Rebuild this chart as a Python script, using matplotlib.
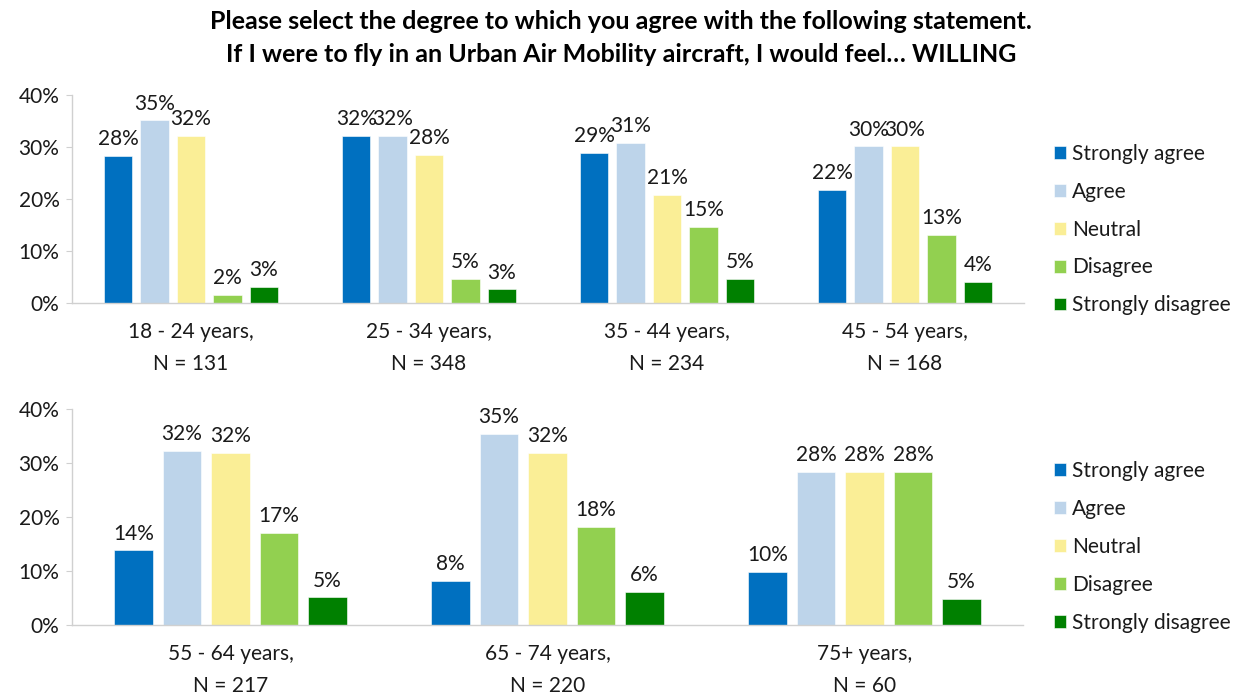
import matplotlib
matplotlib.use("Agg")
import matplotlib.pyplot as plt
import numpy as np

plt.rcParams['font.family'] = ['Lato', 'DejaVu Sans']

series = ["Strongly agree", "Agree", "Neutral", "Disagree", "Strongly disagree"]
colors = ["#0070C0", "#BDD4EA", "#FAEE96", "#92D050", "#008000"]

top_groups = ["18 - 24 years,\nN = 131", "25 - 34 years,\nN = 348",
              "35 - 44 years,\nN = 234", "45 - 54 years,\nN = 168"]
top_values = {
    "Strongly agree":    [28.2, 32.2, 28.9, 21.8],
    "Agree":             [35.1, 32.2, 30.7, 30.1],
    "Neutral":           [32.1, 28.4, 20.7, 30.1],
    "Disagree":          [1.5, 4.6, 14.6, 13.0],
    "Strongly disagree": [3.0, 2.6, 4.6, 4.0],
}

bottom_groups = ["55 - 64 years,\nN = 217", "65 - 74 years,\nN = 220",
                 "75+ years,\nN = 60"]
bottom_values = {
    "Strongly agree":    [13.8, 8.1, 9.9],
    "Agree":             [32.2, 35.4, 28.3],
    "Neutral":           [31.8, 31.8, 28.3],
    "Disagree":          [17.0, 18.1, 28.3],
    "Strongly disagree": [5.1, 6.2, 4.9],
}

title = ("Please select the degree to which you agree with the following statement.\n"
         "If I were to fly in an Urban Air Mobility aircraft, I would feel\u2026 WILLING")

W, H = 1242, 694
FS = 15
TXT = '#1a1a1a'
fig = plt.figure(figsize=(W / 100, H / 100), dpi=100)

def px_ax(left, right, y0, y40):
    return fig.add_axes([left / W, 1 - y0 / H, (right - left) / W, (y0 - y40) / H])

ax_top = px_ax(72, 1024, 303, 95)
ax_bot = px_ax(72, 1023, 625, 409)

def draw(ax, groups, values, leg_center_y):
    n = len(groups)
    x = np.arange(n)
    pitch = 0.153
    width = 0.12
    handles = []
    for i, s in enumerate(series):
        pos = x + (i - 2) * pitch
        vals = np.array(values[s]) / 100.0
        bars = ax.bar(pos, vals, width=width, color=colors[i], label=s,
                      edgecolor='white', linewidth=0.4)
        handles.append(bars)
        for p, v in zip(pos, vals):
            ax.annotate(f"{int(v * 100 + 0.5):d}%", (p, v), xytext=(0, 5),
                        textcoords='offset points', ha='center', va='bottom',
                        fontsize=FS, color=TXT)
    ax.set_xlim(-0.5, n - 0.5)
    ax.set_ylim(0, 0.4)
    ax.set_yticks([0, 0.1, 0.2, 0.3, 0.4])
    ax.set_yticklabels(["0%", "10%", "20%", "30%", "40%"], fontsize=FS, color=TXT)
    ax.set_xticks(x)
    ax.set_xticklabels(groups, fontsize=FS, color=TXT, linespacing=1.75)
    ax.tick_params(axis='x', length=0, pad=14)
    ax.tick_params(axis='y', length=4, color='#D0D0D0', pad=5)
    for sp in ['top', 'right']:
        ax.spines[sp].set_visible(False)
    for sp in ['left', 'bottom']:
        ax.spines[sp].set_color('#D0D0D0')
        ax.spines[sp].set_linewidth(1.0)
    leg = fig.legend(handles=handles, labels=series, loc='center left',
                     bbox_to_anchor=(1054 / W, 1 - leg_center_y / H),
                     frameon=False, fontsize=FS, handlelength=0.58,
                     handleheight=0.58, handletextpad=0.3, labelspacing=0.86,
                     borderaxespad=0, borderpad=0)
    for t in leg.get_texts():
        t.set_color(TXT)

draw(ax_top, top_groups, top_values, 229.5)
draw(ax_bot, bottom_groups, bottom_values, 547)

fig.text(621 / W, 1 - 10 / H, title, ha='center', va='top', fontsize=18,
         fontweight='bold', linespacing=1.5, color='#000000')

fig.savefig("out.png", dpi=100)
